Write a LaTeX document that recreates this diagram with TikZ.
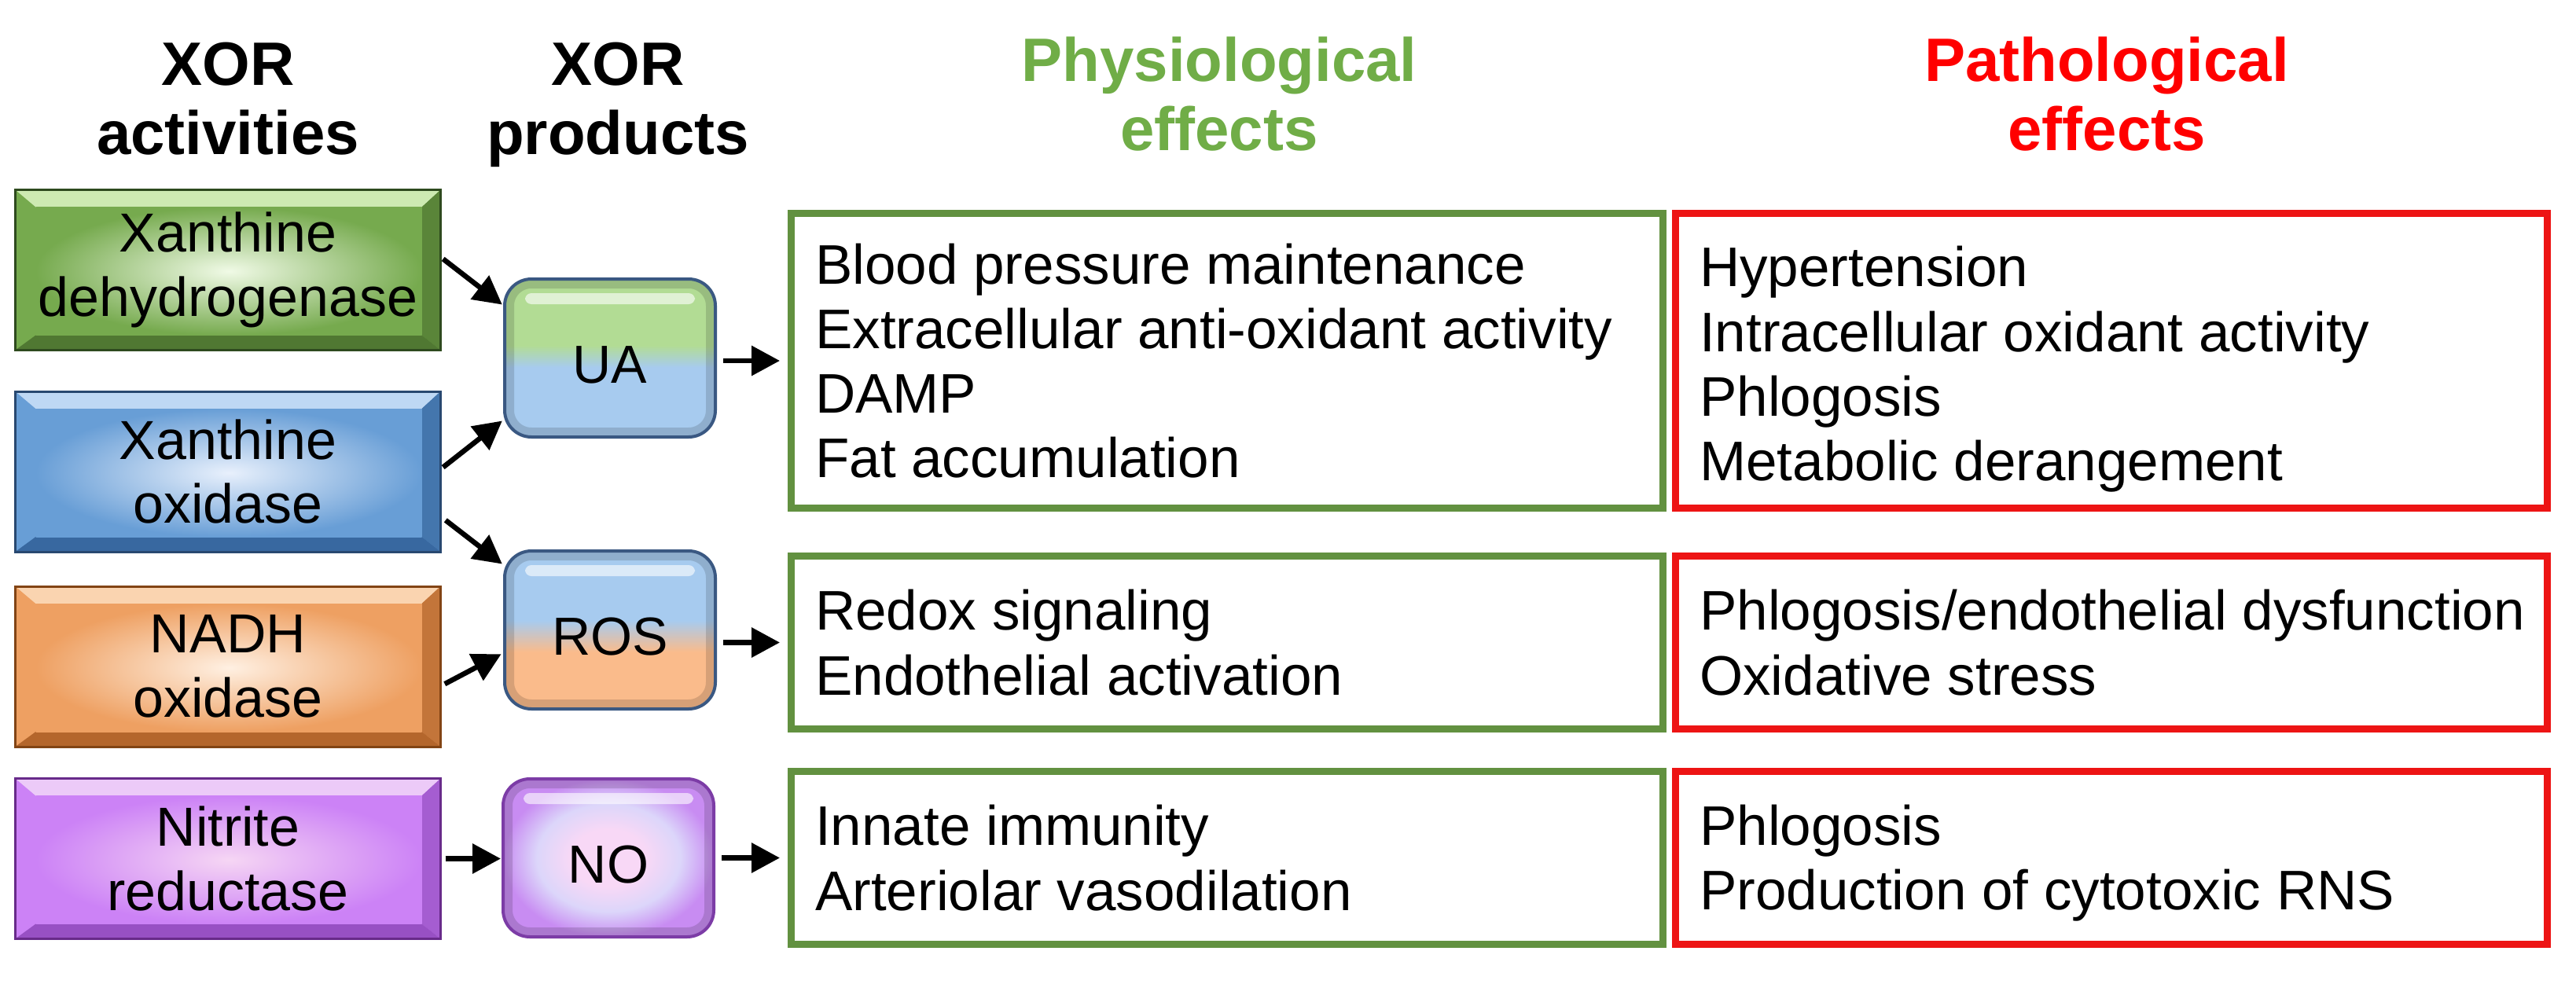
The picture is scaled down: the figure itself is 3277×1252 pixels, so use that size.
\documentclass[tikz,border=0pt]{standalone}
\usepackage{fontspec}
\setmainfont{Liberation Sans}
\usetikzlibrary{arrows.meta}

\definecolor{physhead}{RGB}{112,173,71}
\definecolor{pathhead}{RGB}{255,0,0}
\definecolor{physline}{RGB}{98,145,64}
\definecolor{pathline}{RGB}{237,20,20}
\definecolor{xdhline}{RGB}{46,74,30}
\definecolor{xdhdark}{RGB}{80,120,50}
\definecolor{xdhmid}{RGB}{118,170,78}
\definecolor{xdhlight}{RGB}{240,250,230}
\definecolor{xdhtop}{RGB}{205,234,178}
\definecolor{xoline}{RGB}{40,72,112}
\definecolor{xodark}{RGB}{56,104,160}
\definecolor{xomid}{RGB}{104,158,214}
\definecolor{xolight}{RGB}{232,240,252}
\definecolor{xotop}{RGB}{190,216,244}
\definecolor{nadhline}{RGB}{130,68,20}
\definecolor{nadhdark}{RGB}{180,102,44}
\definecolor{nadhmid}{RGB}{238,160,98}
\definecolor{nadhlight}{RGB}{255,240,226}
\definecolor{nadhtop}{RGB}{250,212,176}
\definecolor{nitrline}{RGB}{104,42,138}
\definecolor{nitrdark}{RGB}{152,80,196}
\definecolor{nitrmid}{RGB}{204,130,246}
\definecolor{nitrlight}{RGB}{246,214,244}
\definecolor{nitrtop}{RGB}{236,202,248}
\definecolor{prodline}{RGB}{58,88,130}
\definecolor{uagreen}{RGB}{178,220,148}
\definecolor{uablue}{RGB}{167,203,239}
\definecolor{rosblue}{RGB}{167,203,239}
\definecolor{rosorange}{RGB}{250,187,139}
\definecolor{noline}{RGB}{124,60,166}
\definecolor{nopink}{RGB}{248,216,246}
\definecolor{nolav}{RGB}{220,214,250}
\definecolor{nomid}{RGB}{200,140,242}

\pgfdeclareverticalshading{uashade}{100bp}{color(0bp)=(uablue); color(47bp)=(uablue); color(54bp)=(uagreen); color(100bp)=(uagreen)}
\pgfdeclareverticalshading{rosshade}{100bp}{color(0bp)=(rosorange); color(43bp)=(rosorange); color(53bp)=(rosblue); color(100bp)=(rosblue)}
\pgfdeclareradialshading{noshade}{\pgfpoint{0bp}{0bp}}{color(0bp)=(nopink); color(9bp)=(nopink); color(17bp)=(nolav); color(25bp)=(nomid); color(50bp)=(nomid)}

\newcommand\headfont{\fontsize{22.2}{25}\selectfont\bfseries}
\newcommand\actfont{\fontsize{19.9}{23.3}\selectfont}
\newcommand\prodfont{\fontsize{19.4}{23}\selectfont}
\newcommand\efffont{\fontsize{20.2}{23.4}\selectfont}

\begin{document}
\begin{tikzpicture}[x=0.1mm, y=-0.1mm,
  headtext/.style={font=\headfont, align=center, inner sep=0pt},
  actbox/.style n args={5}{draw=#1, line width=0.3mm, fill=#3,
    minimum width=54.1mm, minimum height=20.4mm, inner sep=0pt, outer sep=0pt,
    align=center, font=\actfont,
    path picture={
      \fill[#5] (path picture bounding box.north west) -- (path picture bounding box.north east)
        -- ([shift={(-2.4mm,-2.2mm)}]path picture bounding box.north east)
        -- ([shift={(2.6mm,-2.2mm)}]path picture bounding box.north west) -- cycle;
      \fill[#2!75!#3] (path picture bounding box.north east) -- (path picture bounding box.south east)
        -- ([shift={(-2.4mm,1.9mm)}]path picture bounding box.south east)
        -- ([shift={(-2.4mm,-2.2mm)}]path picture bounding box.north east) -- cycle;
      \fill[#2] (path picture bounding box.south west) -- (path picture bounding box.south east)
        -- ([shift={(-2.4mm,1.9mm)}]path picture bounding box.south east)
        -- ([shift={(2.6mm,1.9mm)}]path picture bounding box.south west) -- cycle;
      \shade[inner color=#4, outer color=#3] ([shift={(2.6mm,-2.2mm)}]path picture bounding box.north west)
        rectangle ([shift={(-2.4mm,1.9mm)}]path picture bounding box.south east);
    }},
  prodbox/.style n args={2}{draw=#1, line width=0.4mm, rounded corners=3.4mm, shade, shading=#2,
    minimum width=26.8mm, minimum height=20.1mm, inner sep=0pt, outer sep=0pt,
    font=\prodfont, text height=6.4mm, text depth=0pt,
    path picture={
      \draw[black, opacity=0.14, line width=2.4mm, rounded corners=3.4mm]
        (path picture bounding box.south west) rectangle (path picture bounding box.north east);
      \fill[white, opacity=0.6, rounded corners=0.8mm]
        ([shift={(2.6mm,-1.8mm)}]path picture bounding box.north west)
        rectangle ([shift={(-2.6mm,-3.2mm)}]path picture bounding box.north east);
    }},
  effbox/.style={draw=#1, line width=0.9mm, minimum width=110.9mm, inner sep=0pt, outer sep=0pt},
  efftext/.style={anchor=west, align=left, font=\efffont, inner sep=0pt},
  arr/.style={-{Triangle[length=3.6mm, width=3.7mm]}, line width=0.65mm, black}]

\fill[white] (0,0) rectangle (3277,1252);
\useasboundingbox (0,0) rectangle (3277,1252);

\node[headtext] (hdact) at (290,125.5) {XOR\\activities};
\node[headtext] (hdprod) at (786,133.7) {XOR\\products};
\node[headtext, text=physhead] (hdphys) at (1551,119.5) {Physiological\\effects};
\node[headtext, text=pathhead] (hdpath) at (2680,119.5) {Pathological\\effects};

\node[actbox={xdhline}{xdhdark}{xdhmid}{xdhlight}{xdhtop}] (xdh) at (290,343.5) {Xanthine\\dehydrogenase};
\node[actbox={xoline}{xodark}{xomid}{xolight}{xotop}] (xo) at (290,600) {Xanthine\\oxidase};
\node[actbox={nadhline}{nadhdark}{nadhmid}{nadhlight}{nadhtop}] (nadh) at (290,848) {NADH\\oxidase};
\node[actbox={nitrline}{nitrdark}{nitrmid}{nitrlight}{nitrtop}] (nitr) at (290,1092.5) {Nitrite\\reductase};

\node[prodbox={prodline}{uashade}] (ua) at (776,455.5) {UA};
\node[prodbox={prodline}{rosshade}] (ros) at (776,801.5) {ROS};
\node[prodbox={noline}{noshade}] (no) at (774,1091.5) {NO};

\node[effbox=physline, minimum height=37.5mm] (effua) at (1561,459) {};
\node[effbox=physline, minimum height=22mm] (effros) at (1561,817.5) {};
\node[effbox=physline, minimum height=22mm] (effno) at (1561,1091.5) {};
\node[effbox=pathline, minimum height=37.5mm] (patua) at (2686,459) {};
\node[effbox=pathline, minimum height=22mm] (patros) at (2686,817.5) {};
\node[effbox=pathline, minimum height=22mm] (patno) at (2686,1091.5) {};

\node[efftext] (txtua) at ([xshift=3mm]effua.west) {Blood pressure maintenance\\Extracellular anti-oxidant activity\\DAMP\\Fat accumulation};
\node[efftext] (txtros) at ([xshift=3mm]effros.west) {Redox signaling\\Endothelial activation};
\node[efftext] (txtno) at ([xshift=3mm]effno.west) {Innate immunity\\Arteriolar vasodilation};
\node[efftext] (ptxua) at ([xshift=3mm, yshift=-1.1mm]patua.west) {Hypertension\\Intracellular oxidant activity\\Phlogosis\\Metabolic derangement};
\node[efftext] (ptxros) at ([xshift=3mm]patros.west) {Phlogosis/endothelial dysfunction\\Oxidative stress};
\node[efftext] (ptxno) at ([xshift=3mm, yshift=-0.7mm]patno.west) {Phlogosis\\Production of cytotoxic RNS};

\draw[arr, shorten <=0.4mm, shorten >=0.4mm] ([yshift=1.65mm]xdh.east) -- ([yshift=6.55mm]ua.west);
\draw[arr, shorten <=0.4mm, shorten >=0.4mm] ([yshift=0.3mm]xo.east) -- ([yshift=-7.75mm]ua.west);
\draw[arr, shorten <=0.8mm, shorten >=0.4mm] ([yshift=-5.7mm]xo.east) -- ([yshift=8.15mm]ros.west);
\draw[arr, shorten <=0.6mm, shorten >=0.5mm] ([yshift=-2.5mm]nadh.east) -- ([yshift=-2.85mm]ros.west);
\draw[arr, shorten <=0.6mm, shorten >=0.3mm] (nitr.east) -- (nitr.east -| no.west);
\draw[arr, shorten <=1mm, shorten >=1.45mm] (ua.east |- effua.west) -- (effua.west);
\draw[arr, shorten <=1mm, shorten >=1.45mm] (ros.east |- effros.west) -- (effros.west);
\draw[arr, shorten <=1mm, shorten >=1.45mm] (no.east |- effno.west) -- (effno.west);
\end{tikzpicture}
\end{document}
